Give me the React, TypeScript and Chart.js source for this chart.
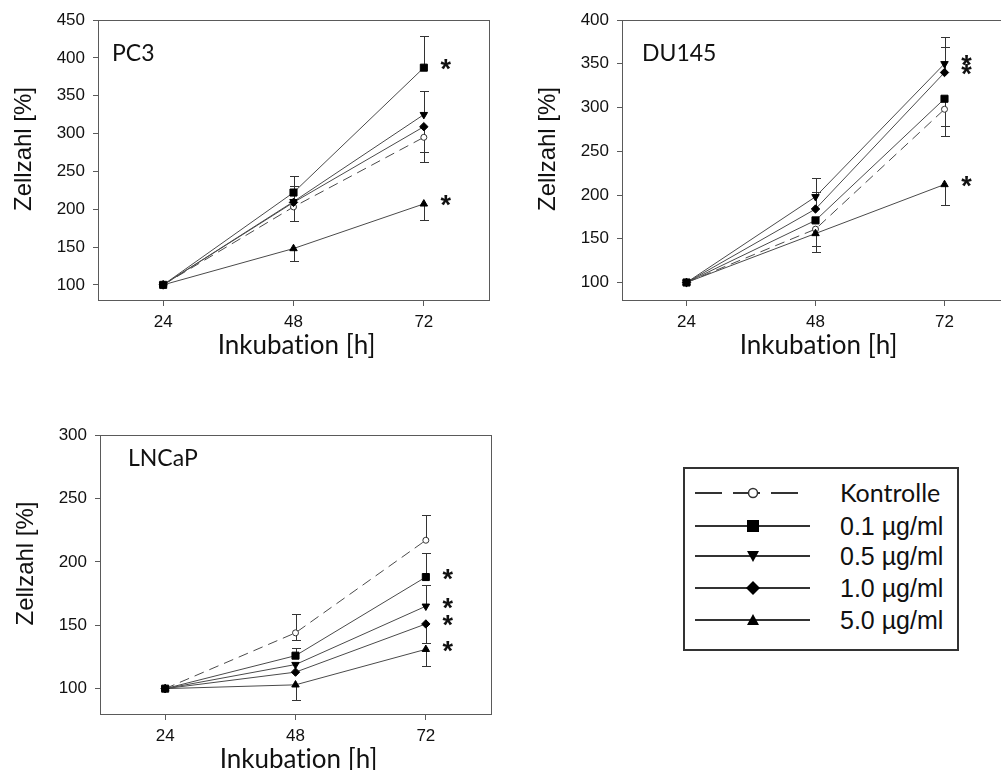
import React, { useEffect, useRef } from "react";
import { Chart, registerables } from "chart.js";

Chart.register(...registerables);

// ---------------- data ----------------
const HOURS = [24, 48, 72];
const X_TICKS = [24, 48, 72];
const SERIES_LABELS = ["Kontrolle", "0.1 µg/ml", "0.5 µg/ml", "1.0 µg/ml", "5.0 µg/ml"];

// PC3
const PC3_Y_TICKS = [100, 150, 200, 250, 300, 350, 400, 450];
const PC3_KONTROLLE = [100, 203, 295];
const PC3_C01 = [100, 222, 387];
const PC3_C05 = [100, 210, 325];
const PC3_C10 = [100, 209, 309];
const PC3_C50 = [100, 148, 207];
const PC3_ERR_UP = [[0, 0, 0], [0, 22, 42], [0, 20, 31], [0, 0, 0], [0, 0, 0]];
const PC3_ERR_DOWN = [[0, 18, 33], [0, 0, 0], [0, 0, 0], [0, 0, 34], [0, 16, 21]];
const PC3_SIG = [1, 4];

// DU145
const DU145_Y_TICKS = [100, 150, 200, 250, 300, 350, 400];
const DU145_KONTROLLE = [100, 161, 298];
const DU145_C01 = [100, 171, 310];
const DU145_C05 = [100, 198, 350];
const DU145_C10 = [100, 184, 340];
const DU145_C50 = [100, 156, 212];
const DU145_ERR_UP = [[0, 0, 0], [0, 0, 0], [0, 21, 31], [0, 20, 29], [0, 0, 0]];
const DU145_ERR_DOWN = [[0, 19, 19], [0, 0, 42], [0, 0, 0], [0, 0, 0], [0, 21, 23]];
const DU145_SIG = [2, 3, 4];

// LNCaP
const LNCAP_Y_TICKS = [100, 150, 200, 250, 300];
const LNCAP_KONTROLLE = [100, 144, 217];
const LNCAP_C01 = [100, 126, 188];
const LNCAP_C05 = [100, 119, 165];
const LNCAP_C10 = [100, 113, 151];
const LNCAP_C50 = [100, 103, 131];
const LNCAP_ERR_UP = [[0, 15, 20], [0, 6, 19], [0, 0, 17], [0, 0, 0], [0, 0, 0]];
const LNCAP_ERR_DOWN = [[0, 6, 0], [0, 0, 0], [0, 0, 0], [0, 0, 15], [0, 12, 13]];
const LNCAP_SIG = [1, 2, 3, 4];

// ---------------- styles ----------------
const LINE_COLOR = "#4a4a4a";
const AXIS_COLOR = "#5a5a5a";
const TEXT_COLOR = "#111";
const ARIAL = "'Liberation Sans', Arial, sans-serif";
const CALIBRI = "Lato, 'Open Sans', sans-serif";

const SERIES_STYLE = [
  { pointStyle: "circle", radius: 3, rotation: 0, bg: "#fff", border: "#333", dash: [10, 6], order: 4 },
  { pointStyle: "rect", radius: 5, rotation: 0, bg: "#000", border: "#000", dash: [], order: 0 },
  { pointStyle: "triangle", radius: 4.3, rotation: 180, bg: "#000", border: "#000", dash: [], order: 1 },
  { pointStyle: "rectRot", radius: 4.2, rotation: 0, bg: "#000", border: "#000", dash: [], order: 2 },
  { pointStyle: "triangle", radius: 4.3, rotation: 0, bg: "#000", border: "#000", dash: [], order: 3 },
];

type PanelDef = {
  title: string;
  series: number[][];
  errUp: number[][];
  errDown: number[][];
  sig: number[];
  yMin: number;
  yMax: number;
  yTicks: number[];
  box: { left: number; top: number; width: number; height: number };
  padding: { left: number; right: number; top: number; bottom: number };
  yAxisWidth: number;
  xAxisHeight: number;
  titleDx: number;
  titleDy: number;
};

const PANELS: PanelDef[] = [
  {
    title: "PC3",
    series: [PC3_KONTROLLE, PC3_C01, PC3_C05, PC3_C10, PC3_C50],
    errUp: PC3_ERR_UP,
    errDown: PC3_ERR_DOWN,
    sig: PC3_SIG,
    yMin: 80,
    yMax: 450,
    yTicks: PC3_Y_TICKS,
    box: { left: 0, top: 0, width: 500, height: 370 },
    padding: { left: 0, right: 11, top: 20, bottom: 0 },
    yAxisWidth: 98,
    xAxisHeight: 70,
    titleDx: 14,
    titleDy: 34,
  },
  {
    title: "DU145",
    series: [DU145_KONTROLLE, DU145_C01, DU145_C05, DU145_C10, DU145_C50],
    errUp: DU145_ERR_UP,
    errDown: DU145_ERR_DOWN,
    sig: DU145_SIG,
    yMin: 80,
    yMax: 400,
    yTicks: DU145_Y_TICKS,
    box: { left: 500, top: 0, width: 515, height: 370 },
    padding: { left: 0, right: 2, top: 20, bottom: 0 },
    yAxisWidth: 122,
    xAxisHeight: 70,
    titleDx: 20,
    titleDy: 34,
  },
  {
    title: "LNCaP",
    series: [LNCAP_KONTROLLE, LNCAP_C01, LNCAP_C05, LNCAP_C10, LNCAP_C50],
    errUp: LNCAP_ERR_UP,
    errDown: LNCAP_ERR_DOWN,
    sig: LNCAP_SIG,
    yMin: 80,
    yMax: 300,
    yTicks: LNCAP_Y_TICKS,
    box: { left: 0, top: 400, width: 500, height: 370 },
    padding: { left: 0, right: 9, top: 35, bottom: 0 },
    yAxisWidth: 100,
    xAxisHeight: 56,
    titleDx: 28,
    titleDy: 24,
  },
];

// ---------------- plugins ----------------
const errorBarPlugin = {
  id: "errorBars",
  beforeDatasetsDraw(chart: any, _args: any, opts: any) {
    const { ctx } = chart;
    const x = chart.scales.x;
    const y = chart.scales.y;
    ctx.save();
    ctx.strokeStyle = "#333";
    ctx.lineWidth = 1;
    chart.data.datasets.forEach((ds: any, i: number) => {
      ds.data.forEach((pt: any, j: number) => {
        const px = Math.round(x.getPixelForValue(pt.x)) + 0.5;
        const py = y.getPixelForValue(pt.y);
        const pairs: [number, number][] = [
          [opts.up[i][j], 1],
          [opts.down[i][j], -1],
        ];
        pairs.forEach(([d, s]) => {
          if (!d) return;
          const ey = Math.round(y.getPixelForValue(pt.y + s * d)) + 0.5;
          ctx.beginPath();
          ctx.moveTo(px, py);
          ctx.lineTo(px, ey);
          ctx.moveTo(px - 4.5, ey);
          ctx.lineTo(px + 4.5, ey);
          ctx.stroke();
        });
      });
    });
    ctx.restore();
  },
};

const decorPlugin = {
  id: "decor",
  afterDraw(chart: any, _args: any, o: any) {
    const { ctx, chartArea: a } = chart;
    const x = chart.scales.x;
    const y = chart.scales.y;
    ctx.save();
    // frame
    ctx.strokeStyle = AXIS_COLOR;
    ctx.lineWidth = 1;
    const l = Math.round(a.left) + 0.5;
    const t = Math.round(a.top) + 0.5;
    ctx.strokeRect(l, t, Math.round(a.right) - Math.round(a.left), Math.round(a.bottom) - Math.round(a.top));
    ctx.fillStyle = TEXT_COLOR;
    try {
      (ctx as any).textRendering = "optimizeSpeed";
    } catch (e) {}
    // panel title
    ctx.font = `23px ${CALIBRI}`;
    ctx.textAlign = "left";
    ctx.textBaseline = "middle";
    ctx.fillText(o.title, a.left + o.titleDx, a.top + o.titleDy);
    // y axis title
    ctx.save();
    ctx.translate(a.left - 74, (a.top + a.bottom) / 2 - 11);
    ctx.rotate(-Math.PI / 2);
    ctx.font = `24px ${ARIAL}`;
    ctx.textAlign = "center";
    ctx.textBaseline = "middle";
    ctx.fillText("Zellzahl [%]", 0, 0);
    ctx.restore();
    // x axis title
    ctx.font = `26px ${CALIBRI}`;
    ctx.textAlign = "center";
    ctx.textBaseline = "middle";
    ctx.fillText("Inkubation [h]", x.getPixelForValue(48) + 3, a.bottom + 46);
    // significance asterisks
    ctx.font = `bold 27px ${ARIAL}`;
    ctx.textAlign = "center";
    ctx.textBaseline = "alphabetic";
    const m = ctx.measureText("*");
    const mid = (m.actualBoundingBoxAscent - m.actualBoundingBoxDescent) / 2;
    const last = HOURS.length - 1;
    o.sig.forEach((si: number) => {
      const v = chart.data.datasets[si].data[last];
      ctx.fillText("*", x.getPixelForValue(v.x) + 22, y.getPixelForValue(v.y) - 3 + mid);
    });
    ctx.restore();
  },
};

function makeConfig(p: PanelDef): any {
  const datasets = p.series.map((vals, i) => {
    const s = SERIES_STYLE[i];
    return {
      label: SERIES_LABELS[i],
      data: HOURS.map((h, j) => ({ x: h, y: vals[j] })),
      borderColor: LINE_COLOR,
      borderWidth: 1,
      borderDash: s.dash,
      pointStyle: s.pointStyle,
      pointRadius: s.radius,
      pointRotation: s.rotation,
      pointBackgroundColor: s.bg,
      pointBorderColor: s.border,
      pointBorderWidth: 1,
      tension: 0,
      fill: false,
      order: s.order,
    };
  });
  return {
    type: "line",
    data: { datasets },
    plugins: [errorBarPlugin, decorPlugin],
    options: {
      animation: false,
      responsive: false,
      devicePixelRatio: 1,
      events: [],
      layout: { padding: p.padding },
      plugins: {
        legend: { display: false },
        tooltip: { enabled: false },
        errorBars: { up: p.errUp, down: p.errDown },
        decor: { title: p.title, titleDx: p.titleDx, titleDy: p.titleDy, sig: p.sig },
      },
      scales: {
        x: {
          type: "linear",
          min: 12,
          max: 84,
          afterBuildTicks: (s: any) => {
            s.ticks = X_TICKS.map((v) => ({ value: v }));
          },
          afterFit: (s: any) => {
            s.height = p.xAxisHeight;
          },
          grid: { display: true, drawOnChartArea: false, drawTicks: true, tickLength: 6, color: AXIS_COLOR, lineWidth: 1 },
          border: { display: false },
          ticks: { color: TEXT_COLOR, font: { family: ARIAL, size: 17 }, padding: 6, maxRotation: 0, autoSkip: false },
        },
        y: {
          type: "linear",
          min: p.yMin,
          max: p.yMax,
          afterBuildTicks: (s: any) => {
            s.ticks = p.yTicks.map((v) => ({ value: v }));
          },
          afterFit: (s: any) => {
            s.width = p.yAxisWidth;
          },
          grid: { display: true, drawOnChartArea: false, drawTicks: true, tickLength: 5, color: AXIS_COLOR, lineWidth: 1 },
          border: { display: false },
          ticks: { color: TEXT_COLOR, font: { family: ARIAL, size: 17 }, padding: 8, autoSkip: false },
        },
      },
    },
  };
}

function PanelChart({ def }: { def: PanelDef }) {
  const ref = useRef<HTMLCanvasElement | null>(null);
  useEffect(() => {
    if (!ref.current) return;
    const chart = new Chart(ref.current, makeConfig(def));
    return () => chart.destroy();
  }, [def]);
  const b = def.box;
  return (
    <canvas
      ref={ref}
      width={b.width}
      height={b.height}
      style={{ position: "absolute", left: b.left, top: b.top, width: b.width, height: b.height }}
    />
  );
}

function LegendSymbol({ i }: { i: number }) {
  const cx = 58;
  const cy = 10;
  let marker: React.ReactNode = null;
  if (i === 0) marker = <circle cx={cx} cy={cy} r={4.5} fill="#fff" stroke="#333" strokeWidth={1.5} />;
  if (i === 1) marker = <rect x={cx - 6} y={cy - 6} width={12} height={12} fill="#000" />;
  if (i === 2) marker = <polygon points={`${cx - 6},${cy - 5} ${cx + 6},${cy - 5} ${cx},${cy + 6}`} fill="#000" />;
  if (i === 3) marker = <polygon points={`${cx},${cy - 7} ${cx + 7},${cy} ${cx},${cy + 7} ${cx - 7},${cy}`} fill="#000" />;
  if (i === 4) marker = <polygon points={`${cx},${cy - 6} ${cx + 6},${cy + 5} ${cx - 6},${cy + 5}`} fill="#000" />;
  return (
    <svg width={116} height={20} style={{ position: "absolute", left: 0, top: -10 }}>
      {i === 0 ? (
        <line x1={0} y1={cy} x2={105} y2={cy} stroke="#333" strokeWidth={2} strokeDasharray="27 11" />
      ) : (
        <line x1={0} y1={cy} x2={115} y2={cy} stroke="#333" strokeWidth={2} />
      )}
      {marker}
    </svg>
  );
}

function Legend() {
  const rowTops = [26, 59, 89, 121, 153];
  return (
    <div
      style={{
        position: "absolute",
        left: 683,
        top: 467,
        width: 276,
        height: 184,
        border: "2px solid #333",
        boxSizing: "border-box",
        background: "#fff",
      }}
    >
      {SERIES_LABELS.map((lab, i) => (
        <div key={lab} style={{ position: "absolute", left: 10, top: rowTops[i] - 2, width: 260, height: 0 }}>
          <LegendSymbol i={i} />
          <div
            style={{
              position: "absolute",
              left: 145,
              top: i === 0 ? -16 : -15,
              lineHeight: "30px",
              whiteSpace: "nowrap",
              color: TEXT_COLOR,
              fontFamily: i === 0 ? CALIBRI : ARIAL,
              fontSize: 25,
              fontVariantLigatures: "none",
            }}
          >
            {lab}
          </div>
        </div>
      ))}
    </div>
  );
}

export default function App() {
  return (
    <div
      style={{
        position: "absolute",
        left: 0,
        top: 0,
        width: 1001,
        height: 770,
        overflow: "hidden",
        background: "#fff",
      }}
    >
      {PANELS.map((p) => (
        <PanelChart key={p.title} def={p} />
      ))}
      <Legend />
    </div>
  );
}
